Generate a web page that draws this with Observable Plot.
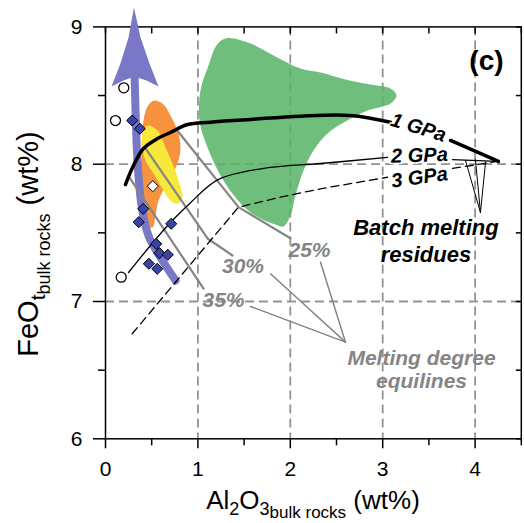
<!DOCTYPE html>
<html>
<head>
<meta charset="utf-8">
<script src="https://cdn.jsdelivr.net/npm/d3@7"></script>
<script src="https://cdn.jsdelivr.net/npm/@observablehq/plot@0.6"></script>
<style>
  html, body { margin: 0; padding: 0; background: white; }
  #chart { width: 524px; height: 523px; }
</style>
</head>
<body>
<div id="chart"></div>
<script>
// ---------- data (Al2O3 wt%, FeOt wt%) ----------
const greenField = [
  [1.299,8.916],[1.569,8.879],[1.818,8.792],[2.110,8.697],[2.327,8.668],[2.597,8.617],
  [2.868,8.580],[3.084,8.551],[3.149,8.500],[3.084,8.442],[2.835,8.391],[2.597,8.311],
  [2.403,8.224],[2.251,8.100],[2.143,7.954],[2.056,7.772],[2.002,7.626],[1.926,7.546],
  [1.840,7.561],[1.677,7.605],[1.494,7.692],[1.277,7.881],[1.104,8.122],[1.017,8.318],
  [1.028,8.537],[1.115,8.719],[1.201,8.865]
];
const orangeField = [
  [0.519,8.463],[0.628,8.435],[0.703,8.355],[0.779,8.245],[0.812,8.122],[0.779,8.005],
  [0.682,7.881],[0.574,7.735],[0.541,7.626],[0.509,7.539],[0.444,7.553],[0.411,7.685],
  [0.390,7.881],[0.390,8.078],[0.411,8.318],[0.455,8.420]
];
const yellowField = [
  [0.455,8.282],[0.563,8.245],[0.649,8.122],[0.725,8.005],[0.790,7.881],[0.833,7.757],
  [0.790,7.714],[0.725,7.721],[0.628,7.808],[0.519,7.932],[0.433,8.027],[0.400,8.122],
  [0.400,8.224]
];
const trendShaft = [
  [0.758,7.153],[0.595,7.320],[0.465,7.480],[0.390,7.699],[0.346,8.027],[0.325,8.391],[0.314,8.668]
];
const trendHead = [
  [0.308,9.141],[0.249,8.923],[0.162,8.733],[0.065,8.566],[0.195,8.610],[0.314,8.639],
  [0.444,8.610],[0.574,8.566],[0.476,8.733],[0.379,8.923]
];
const diamondsBlue = [
  [0.289,8.318],[0.371,8.258],[0.408,7.675],[0.360,7.578],[0.711,7.566],
  [0.549,7.420],[0.584,7.352],[0.674,7.340],[0.469,7.275],[0.560,7.238]
];
const diamondsWhite = [[0.512,7.840]];
const circlesOpen = [[0.198,8.556],[0.108,8.318],[0.170,7.177]];

const gpa1a = [[0.216,7.852],[0.303,7.990],[0.411,8.114],[0.563,8.187],[0.703,8.231],[0.887,8.289],
  [1.136,8.306],[1.569,8.326],[2.110,8.350],[2.652,8.355],[3.084,8.306]];
const gpa1b = [[3.734,8.173],[4.253,8.020]];
const gpa2a = [[0.249,7.211],[0.487,7.408],[0.703,7.575],[0.920,7.720],[1.223,7.889],[1.710,7.969],
  [2.327,8.005],[3.052,8.049]];
const gpa2b = [[3.755,8.034],[4.242,8.020]];
const gpa3a = [[0.289,6.765],[1.439,7.687],[1.894,7.760],[2.327,7.821],[3.052,7.905]];
const gpa3b = [[3.755,7.969],[4.167,8.012],[4.242,8.020]];

const equi25 = [[0.768,8.253],[1.439,7.687],[2.002,7.461]];
const equi30 = [[0.433,8.115],[1.104,7.459],[1.374,7.335]];
const equi35 = [[0.260,7.903],[1.061,7.094]];

const equiLeaders = [
  [[2.597,6.704],[2.327,7.286]],
  [[2.597,6.704],[1.786,7.202]],
  [[2.597,6.704],[1.569,6.964]]
];
const batchLeaders = [
  [[4.058,7.648],[3.896,8.027]],
  [[4.058,7.648],[4.004,8.032]],
  [[4.058,7.648],[4.113,8.015]]
];

const gpaLabels = [
  {x:3.387, y:8.267, text:"1 GPa", rot:17},
  {x:3.398, y:8.064, text:"2 GPa", rot:-2},
  {x:3.398, y:7.903, text:"3 GPa", rot:-8}
];
const pctLabels = [
  {x:2.208, y:7.371, text:"25%"},
  {x:1.488, y:7.255, text:"30%"},
  {x:1.277, y:7.007, text:"35%"}
];
const batchLabel = [{x:3.468, y:7.448, text:"Batch melting\nresidues"}];
const equiLabel = [{x:3.420, y:6.505, text:"Melting degree\nequilines"}];
const panelLabel = [{x:4.123, y:8.748, text:"(c)"}];

const xMajor = [0,1,2,3,4];
const xMinor = [0.5,1.5,2.5,3.5,4.5];
const yMajor = [6,7,8,9];
const yMinor = [6.5,7.5,8.5];
const xGrid = [1,2,3,4];
const yGrid = [7,8];

// ---------- helpers ----------
const pts = a => a.map(([x,y]) => ({x,y}));
const FONT = "Liberation Sans, Arial, Helvetica, sans-serif";
const segs = (list) => list.flatMap((s,i) => s.map(([x,y]) => ({x,y,g:i})));
const fmt = d => String(d);

const plot = Plot.plot({
  width: 524,
  height: 523,
  marginTop: 26.4,
  marginBottom: 84.7,
  marginLeft: 105,
  marginRight: 3.2,
  style: {fontFamily: FONT, fontSize: "21px", background: "white", color: "black"},
  x: {domain: [0, 4.5]},
  y: {domain: [6, 9]},
  marks: [
    // grid
    Plot.ruleX(xGrid, {stroke: "#939393", strokeWidth: 1.8, strokeDasharray: "9,5"}),
    Plot.ruleY(yGrid, {stroke: "#939393", strokeWidth: 1.8, strokeDasharray: "9,5"}),
    // fields
    Plot.line(pts(greenField), {x:"x", y:"y", fill:"#56b365", fillOpacity:0.85, stroke:null, curve:"catmull-rom-closed"}),
    Plot.line(pts(orangeField), {x:"x", y:"y", fill:"#f7923e", stroke:null, curve:"catmull-rom-closed"}),
    Plot.line(pts(yellowField), {x:"x", y:"y", fill:"#f7e83c", stroke:null, curve:"catmull-rom-closed"}),
    // frame and axes
    Plot.frame({stroke:"black", strokeWidth:1.5}),
    Plot.axisX({ticks: xMajor, tickFormat: fmt, tickSize: 10, tickPadding: 12, fontSize: 21, label: null, strokeWidth: 1.5}),
    Plot.axisX({ticks: xMinor, tickSize: 7, text: null, label: null, strokeWidth: 1.5}),
    Plot.axisX({anchor: "top", ticks: xMajor.concat(xMinor), tickSize: -6, text: null, label: null, strokeWidth: 1.5}),
    Plot.axisY({ticks: yMajor, tickFormat: fmt, tickSize: 12, tickPadding: 11, fontSize: 21, label: null, strokeWidth: 1.5}),
    Plot.axisY({ticks: yMinor, tickSize: 7, text: null, label: null, strokeWidth: 1.5}),
    Plot.axisY({anchor: "right", ticks: yMajor.concat(yMinor), tickSize: -6, text: null, label: null, strokeWidth: 1.5}),
    // trend arrow
    Plot.line(pts(trendShaft), {x:"x", y:"y", stroke:"#7878c6", strokeWidth:8, curve:"catmull-rom"}),
    Plot.line(pts(trendHead), {x:"x", y:"y", fill:"#7878c6", stroke:null, curve:"linear-closed"}),
    // equilines
    Plot.line(pts(equi25), {x:"x", y:"y", stroke:"#858585", strokeWidth:2.2}),
    Plot.line(pts(equi30), {x:"x", y:"y", stroke:"#858585", strokeWidth:2.2}),
    Plot.line(pts(equi35), {x:"x", y:"y", stroke:"#858585", strokeWidth:2.2}),
    // batch melting curves
    Plot.line(pts(gpa1a), {x:"x", y:"y", stroke:"black", strokeWidth:3.5, curve:"catmull-rom"}),
    Plot.line(pts(gpa1b), {x:"x", y:"y", stroke:"black", strokeWidth:3.5}),
    Plot.line(pts(gpa2a), {x:"x", y:"y", stroke:"black", strokeWidth:1.3, curve:"catmull-rom"}),
    Plot.line(pts(gpa2b), {x:"x", y:"y", stroke:"black", strokeWidth:1.3}),
    Plot.line(pts(gpa3a), {x:"x", y:"y", stroke:"black", strokeWidth:1.3, strokeDasharray:"8,5"}),
    Plot.line(pts(gpa3b), {x:"x", y:"y", stroke:"black", strokeWidth:1.3, strokeDasharray:"8,5"}),
    // leaders
    Plot.line(segs(equiLeaders), {x:"x", y:"y", z:"g", stroke:"#858585", strokeWidth:1.5}),
    Plot.line(segs(batchLeaders), {x:"x", y:"y", z:"g", stroke:"black", strokeWidth:1}),
    // symbols
    Plot.dot(pts(circlesOpen), {x:"x", y:"y", r:5, fill:"white", stroke:"black", strokeWidth:1.3}),
    Plot.dot(pts(diamondsBlue), {x:"x", y:"y", symbol:"diamond2", r:5, fill:"#3a44a8", stroke:"black", strokeWidth:1}),
    Plot.dot(pts(diamondsWhite), {x:"x", y:"y", symbol:"diamond2", r:5, fill:"white", stroke:"black", strokeWidth:1}),
    // labels
    Plot.text(gpaLabels, {x:"x", y:"y", text:"text", rotate:"rot", fontSize:20, fontWeight:"bold", fontStyle:"italic", fill:"black", stroke:"white", strokeWidth:3, paintOrder:"stroke"}),
    Plot.text(pctLabels, {x:"x", y:"y", text:"text", fontSize:21, fontWeight:"bold", fontStyle:"italic", fill:"#858585"}),
    Plot.text(batchLabel, {x:"x", y:"y", text:"text", fontSize:22, lineHeight:1.23, fontWeight:"bold", fontStyle:"italic", fill:"black"}),
    Plot.text(equiLabel, {x:"x", y:"y", text:"text", fontSize:21, lineHeight:1.1, fontWeight:"bold", fontStyle:"italic", fill:"#858585"}),
    Plot.text(panelLabel, {x:"x", y:"y", text:"text", fontSize:28, fontWeight:"bold", fill:"black"})
  ]
});

// axis titles with sub/subscripts
const svg = d3.select(plot);
const xt = svg.append("text")
  .attr("x", 313).attr("y", 509)
  .attr("text-anchor", "middle")
  .attr("font-family", FONT).attr("font-size", 26).attr("fill", "black");
xt.append("tspan").text("Al");
xt.append("tspan").attr("font-size", 18).attr("dy", 6).text("2");
xt.append("tspan").attr("dy", -6).text("O");
xt.append("tspan").attr("font-size", 18).attr("dy", 6).text("3");
xt.append("tspan").attr("font-size", 17).attr("dy", 3).text("bulk rocks");
xt.append("tspan").attr("dy", -9).text("\u00a0(wt%)");

const yt = svg.append("text")
  .attr("transform", "translate(38,244) rotate(-90)")
  .attr("text-anchor", "middle")
  .attr("font-family", FONT).attr("font-size", 29).attr("fill", "black");
yt.append("tspan").text("FeO");
yt.append("tspan").attr("font-size", 21).attr("dy", 7).text("t");
yt.append("tspan").attr("font-size", 18).attr("dy", 5).text("bulk rocks");
yt.append("tspan").attr("dy", -12).text("\u00a0(wt%)");

document.getElementById("chart").appendChild(plot);
</script>
</body>
</html>
